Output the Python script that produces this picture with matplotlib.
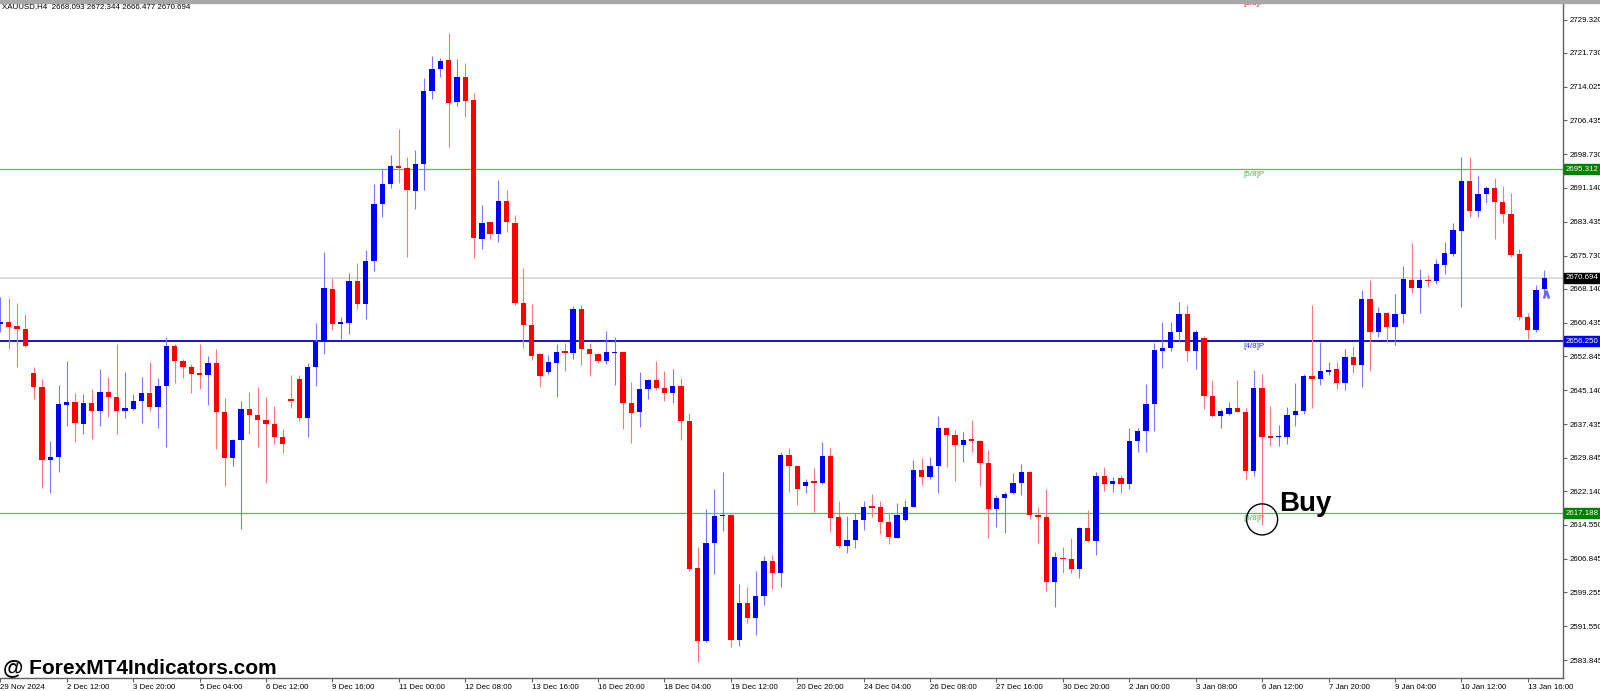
import matplotlib.pyplot as plt
from matplotlib.patches import Rectangle
from matplotlib import transforms

# XAUUSD H4 candles (index 0 = 29 Nov 2024)
open_ = [2660.18, 2660.71, 2659.72, 2659.04, 2649.12, 2645.79, 2629.29, 2629.90, 2641.86, 2642.39,
         2637.54, 2642.24, 2640.49, 2644.66, 2643.67, 2640.34, 2640.95, 2642.77, 2644.51, 2641.25,
         2646.17, 2655.10, 2651.70, 2650.41, 2648.82, 2648.59, 2651.32, 2640.27, 2629.75, 2633.76,
         2640.80, 2639.59, 2638.46, 2637.47, 2634.59, 2643.00, 2647.77, 2638.91, 2650.49, 2656.17,
         2668.13, 2660.18, 2660.48, 2669.87, 2664.65, 2674.56, 2687.51, 2692.05, 2696.06, 2695.61,
         2690.46, 2696.52, 2713.17, 2718.09, 2720.06, 2710.60, 2716.28, 2711.05, 2679.56, 2683.34,
         2680.62, 2688.04, 2683.04, 2664.87, 2659.88, 2653.29, 2649.36, 2651.40, 2653.90, 2653.52,
         2663.59, 2654.50, 2653.37, 2651.78, 2653.52, 2653.82, 2642.31, 2640.19, 2645.42, 2647.46,
         2645.72, 2644.59, 2646.18, 2638.15, 2604.69, 2588.19, 2610.52, 2616.50, 2616.80, 2588.42,
         2596.89, 2593.49, 2598.41, 2606.36, 2603.71, 2630.43, 2627.93, 2623.47, 2624.45, 2624.00,
         2630.28, 2616.35, 2609.84, 2611.20, 2615.59, 2618.69, 2618.62, 2615.14, 2611.65, 2615.59,
         2618.69, 2627.02, 2625.36, 2627.85, 2636.63, 2634.97, 2632.70, 2633.84, 2633.68, 2628.69,
         2618.24, 2620.66, 2621.87, 2624.07, 2626.57, 2616.80, 2616.35, 2601.59, 2607.11, 2606.73,
         2604.61, 2613.77, 2610.97, 2625.66, 2623.77, 2625.13, 2623.77, 2633.68, 2635.95, 2642.01,
         2654.05, 2654.73, 2658.44, 2662.37, 2654.12, 2657.07, 2643.83, 2639.36, 2639.66, 2641.18,
         2640.27, 2626.87, 2645.57, 2634.59, 2634.44, 2634.59, 2639.51, 2640.42, 2648.40, 2647.60,
         2649.30, 2649.90, 2646.70, 2652.60, 2650.90, 2665.80, 2658.30, 2662.60, 2659.40, 2662.38,
         2670.18, 2668.28, 2670.18, 2669.95, 2673.58, 2676.08, 2681.38, 2692.58, 2685.85, 2689.71,
         2691.14, 2687.97, 2685.16, 2676.00, 2661.85, 2658.82, 2668.093]
high = [2666.38, 2666.01, 2665.02, 2662.37, 2650.34, 2647.69, 2633.68, 2646.32, 2651.85, 2644.43,
        2644.28, 2645.42, 2650.03, 2648.22, 2655.71, 2649.28, 2644.28, 2648.22, 2651.55, 2647.84,
        2657.22, 2655.63, 2652.15, 2651.02, 2655.63, 2652.83, 2654.50, 2643.45, 2633.99, 2642.69,
        2644.66, 2645.80, 2643.53, 2641.63, 2636.26, 2648.52, 2648.52, 2651.25, 2660.41, 2676.46,
        2670.63, 2661.70, 2671.84, 2673.96, 2676.91, 2691.98, 2695.46, 2698.49, 2704.39, 2698.18,
        2699.70, 2715.97, 2721.04, 2720.51, 2726.34, 2720.44, 2719.53, 2712.57, 2687.13, 2683.65,
        2692.88, 2690.61, 2684.86, 2672.90, 2664.72, 2653.67, 2653.14, 2655.64, 2655.94, 2664.27,
        2664.50, 2655.94, 2653.52, 2658.67, 2657.15, 2653.90, 2647.01, 2649.20, 2647.69, 2651.78,
        2649.58, 2649.88, 2647.84, 2639.89, 2609.46, 2618.17, 2622.71, 2626.49, 2616.95, 2601.06,
        2600.38, 2604.09, 2607.49, 2607.72, 2631.19, 2631.94, 2628.16, 2624.98, 2627.40, 2633.31,
        2632.09, 2619.98, 2616.58, 2617.18, 2619.98, 2621.57, 2619.98, 2617.33, 2619.45, 2620.21,
        2629.29, 2629.75, 2630.05, 2639.28, 2636.86, 2636.10, 2635.58, 2638.38, 2633.84, 2631.56,
        2621.34, 2621.95, 2626.26, 2628.31, 2626.70, 2618.69, 2622.71, 2608.47, 2609.61, 2611.65,
        2614.15, 2617.94, 2626.60, 2627.63, 2625.36, 2625.89, 2636.63, 2636.63, 2646.48, 2655.79,
        2660.56, 2660.56, 2665.25, 2664.49, 2658.81, 2657.53, 2647.46, 2640.80, 2642.46, 2647.46,
        2641.03, 2649.73, 2648.82, 2641.56, 2637.16, 2641.40, 2646.70, 2648.90, 2664.40, 2656.20,
        2651.60, 2651.60, 2654.40, 2655.20, 2667.90, 2670.20, 2664.10, 2662.80, 2667.00, 2673.36,
        2678.50, 2672.60, 2671.39, 2674.87, 2678.81, 2683.20, 2698.18, 2698.18, 2693.79, 2691.52,
        2693.42, 2691.52, 2689.86, 2677.22, 2662.61, 2669.00, 2672.344]
low = [2658.44, 2654.42, 2650.49, 2654.90, 2643.07, 2622.86, 2621.87, 2626.57, 2637.09, 2633.45,
       2635.27, 2633.98, 2637.09, 2639.13, 2635.12, 2638.83, 2640.65, 2637.62, 2640.34, 2636.63,
       2632.32, 2646.85, 2647.99, 2644.58, 2645.34, 2641.71, 2631.71, 2623.39, 2627.93, 2613.55,
       2635.20, 2632.32, 2624.00, 2632.93, 2630.96, 2641.03, 2638.23, 2634.59, 2646.18, 2653.29,
       2658.89, 2656.70, 2657.91, 2663.66, 2661.24, 2672.29, 2684.56, 2690.99, 2692.28, 2675.47,
       2686.30, 2690.61, 2711.20, 2716.20, 2700.30, 2709.69, 2707.27, 2675.09, 2677.14, 2679.41,
       2678.80, 2681.07, 2664.42, 2654.66, 2652.01, 2645.95, 2648.83, 2643.53, 2649.51, 2652.31,
       2650.79, 2648.45, 2651.40, 2651.10, 2646.33, 2636.26, 2633.08, 2636.71, 2643.07, 2645.19,
       2642.69, 2642.16, 2633.76, 2604.16, 2583.34, 2587.89, 2603.33, 2613.25, 2586.90, 2587.13,
       2592.35, 2589.55, 2596.44, 2600.07, 2600.38, 2622.10, 2619.15, 2621.72, 2617.56, 2623.85,
       2612.87, 2609.23, 2608.10, 2609.23, 2613.40, 2616.42, 2612.41, 2610.14, 2611.50, 2615.36,
       2618.54, 2623.54, 2625.05, 2621.72, 2627.78, 2624.60, 2628.91, 2631.18, 2623.39, 2611.65,
       2614.15, 2612.64, 2621.57, 2621.34, 2615.82, 2610.37, 2599.62, 2595.98, 2603.55, 2603.55,
       2602.42, 2610.70, 2607.70, 2622.18, 2622.10, 2621.72, 2622.63, 2631.03, 2631.18, 2635.95,
       2650.11, 2654.05, 2656.39, 2651.85, 2649.88, 2640.95, 2639.13, 2636.63, 2639.51, 2640.12,
       2625.05, 2625.66, 2614.53, 2632.55, 2632.55, 2632.85, 2637.09, 2639.80, 2641.00, 2646.30,
       2648.60, 2645.40, 2645.20, 2649.00, 2645.80, 2649.50, 2657.30, 2656.20, 2655.40, 2660.33,
       2667.15, 2662.76, 2668.51, 2669.27, 2671.54, 2675.63, 2664.12, 2684.56, 2684.56, 2687.59,
       2679.41, 2683.20, 2675.47, 2661.09, 2656.70, 2658.30, 2666.477]
close = [2660.71, 2659.57, 2658.97, 2655.18, 2645.79, 2629.29, 2629.90, 2641.93, 2642.39, 2637.62,
         2642.24, 2640.49, 2644.66, 2643.67, 2640.49, 2641.02, 2642.77, 2644.51, 2641.40, 2646.17,
         2655.10, 2651.70, 2650.34, 2648.82, 2648.59, 2651.32, 2640.27, 2629.75, 2633.76, 2640.80,
         2639.59, 2638.46, 2637.47, 2634.59, 2633.01, 2642.69, 2638.91, 2650.49, 2656.17, 2668.28,
         2660.18, 2660.48, 2669.87, 2664.65, 2674.56, 2687.51, 2692.05, 2695.99, 2695.68, 2690.69,
         2696.44, 2713.17, 2718.02, 2719.98, 2710.45, 2716.20, 2710.90, 2679.79, 2683.19, 2680.62,
         2688.11, 2683.27, 2664.87, 2659.95, 2652.99, 2648.37, 2651.48, 2653.90, 2653.67, 2663.66,
         2654.50, 2653.29, 2651.85, 2653.75, 2653.82, 2642.16, 2640.04, 2645.50, 2647.46, 2645.72,
         2644.59, 2646.18, 2638.15, 2604.46, 2588.26, 2610.44, 2616.58, 2616.80, 2588.42, 2596.82,
         2593.49, 2598.48, 2606.36, 2603.71, 2630.43, 2627.93, 2622.78, 2624.37, 2624.15, 2630.28,
         2616.20, 2609.76, 2611.20, 2615.59, 2618.70, 2618.47, 2615.14, 2611.73, 2616.73, 2618.69,
         2627.02, 2625.36, 2627.85, 2636.48, 2634.97, 2632.70, 2633.76, 2633.61, 2628.69, 2618.09,
         2620.66, 2621.65, 2623.99, 2626.57, 2616.80, 2616.35, 2601.59, 2607.19, 2606.73, 2604.61,
         2613.77, 2610.97, 2625.66, 2623.84, 2624.45, 2623.77, 2633.68, 2635.88, 2642.01, 2654.20,
         2654.73, 2658.44, 2662.37, 2654.12, 2658.44, 2643.90, 2639.36, 2640.42, 2641.18, 2640.27,
         2626.87, 2645.72, 2634.44, 2634.37, 2634.82, 2639.51, 2640.42, 2648.40, 2647.60, 2649.50,
         2649.70, 2646.70, 2652.60, 2650.90, 2665.80, 2658.30, 2662.60, 2659.40, 2662.50, 2670.33,
         2668.28, 2670.18, 2669.88, 2673.73, 2676.23, 2681.46, 2692.73, 2685.85, 2689.63, 2691.14,
         2687.97, 2685.16, 2675.85, 2661.85, 2658.82, 2668.00, 2670.694]

date_labels = ["29 Nov 2024", "2 Dec 12:00", "3 Dec 20:00", "5 Dec 04:00", "6 Dec 12:00",
               "9 Dec 16:00", "11 Dec 00:00", "12 Dec 08:00", "13 Dec 16:00", "16 Dec 20:00",
               "18 Dec 04:00", "19 Dec 12:00", "20 Dec 20:00", "24 Dec 04:00", "26 Dec 08:00",
               "27 Dec 16:00", "30 Dec 20:00", "2 Jan 00:00", "3 Jan 08:00", "6 Jan 12:00",
               "7 Jan 20:00", "9 Jan 04:00", "10 Jan 12:00", "13 Jan 16:00"]
label_step = 8

price_ticks = [2729.320, 2721.730, 2714.025, 2706.435, 2698.730, 2691.140, 2683.435, 2675.730,
               2668.140, 2660.435, 2652.845, 2645.140, 2637.435, 2629.845, 2622.140, 2614.550,
               2606.845, 2599.255, 2591.550, 2583.845]

# Murrey math levels
levels = [2734.375, 2695.312, 2656.250, 2617.188]
level_names = ["[6/8]P", "[5/8]P", "[4/8]P", "[3/8]P"]
level_colors = ["#dd0000", "#55aa55", "#3030ee", "#55aa55"]
bid = 2670.694

buy_index = 152
buy_price = 2615.8

font = ["Liberation Sans", "DejaVu Sans"]
plt.rcParams['font.family'] = font

W, H = 1600, 691
fig = plt.figure(figsize=(W / 100, H / 100), dpi=100)
fig.patch.set_facecolor("white")
ax = fig.add_axes([0, 13 / H, 1563 / W, 676 / H])
ax.set_facecolor("white")

n = len(open_)
xs = list(range(n))
up = [c >= o for o, c in zip(open_, close)]

# wicks
wick_cols = ["#7777ff" if u else "#ff7777" for u in up]
ax.vlines(xs, low, high, colors=wick_cols, linewidth=0.8, zorder=3)

# bodies
bottoms = [min(o, c) for o, c in zip(open_, close)]
heights = [max(abs(c - o), 0.35) for o, c in zip(open_, close)]
body_cols = ["#0000ff" if u else "#ff0000" for u in up]
ax.bar(xs, heights, bottom=bottoms, width=0.64, color=body_cols, linewidth=0, zorder=4)

# horizontal levels
ax.axhline(levels[1], color="#66b366", lw=0.9, zorder=1)
ax.axhline(levels[2], color="#0000dd", lw=1.3, zorder=1)
ax.axhline(levels[3], color="#66b366", lw=0.9, zorder=1)
ax.axhline(bid, color="#dddddd", lw=1.4, zorder=1)

# level names just under each line; the 6/8 line itself is above the window
label_y = [2733.7, levels[1] - 0.45, levels[2] - 0.45, levels[3] - 0.45]
for ly, name, col in zip(label_y, level_names, level_colors):
    ax.text(149.8, ly, name, color=col, fontsize=5.8, va="top", ha="left", clip_on=True)

# buy signal
ax.scatter([buy_index], [buy_price], s=500, facecolors="none", edgecolors="black",
           linewidths=1.0, zorder=6)
ax.text(154.0, 2617.6, "Buy", fontsize=20, fontweight="bold", color="black",
        va="baseline", ha="left", zorder=7)

# small arrow under last candle
ax.plot([n - 1 + 0.25], [2666.9], marker=r"$\wedge$", color="#6666ff", markersize=5, zorder=5)

ax.set_xlim(-0.05, 188.25)
ax.set_ylim(2579.78, 2733.31)

# axes styling like MT4
for side in ["top", "left"]:
    ax.spines[side].set_visible(False)
for side in ["right", "bottom"]:
    ax.spines[side].set_color("#606060")
    ax.spines[side].set_linewidth(1)

ax.yaxis.tick_right()
ax.set_yticks(price_ticks)
ax.set_yticklabels([f"{p:.3f}" for p in price_ticks])
ax.tick_params(axis="y", direction="out", length=3, width=0.8, colors="#606060",
               labelsize=5.7, labelcolor="black", pad=2)

tick_pos = [i * label_step for i in range(len(date_labels))]
ax.set_xticks(tick_pos)
ax.set_xticklabels(date_labels)
ax.tick_params(axis="x", direction="out", length=3, width=0.8, colors="#606060",
               labelsize=5.7, labelcolor="black", pad=1)
for lab in ax.get_xticklabels():
    lab.set_ha("left")

# coloured price tags on the right scale
tag_tr = transforms.blended_transform_factory(ax.transAxes, ax.transData)
tags = [(levels[1], "#008000"), (bid, "#000000"), (levels[2], "#0000ff"), (levels[3], "#008000")]
for p, col in tags:
    ax.text(1.0015, p, f"{p:.3f}", transform=tag_tr, fontsize=5.7, color="white",
            va="center", ha="left", clip_on=False, zorder=10,
            bbox=dict(boxstyle="square,pad=0.18", fc=col, ec=col))

# grey frame at the top
fig.patches.append(Rectangle((0, 1 - 2.5 / H), 1, 2.5 / H, transform=fig.transFigure,
                             color="#a8a8a8", zorder=0))

fig.text(2 / W, 1 - 7 / H, "XAUUSD,H4  2668.093 2672.344 2666.477 2670.694",
         fontsize=5.7, color="black", va="center", ha="left")

fig.text(3 / W, (H - 673.3) / H, "@ ForexMT4Indicators.com", fontsize=15,
         fontweight="bold", color="black", va="baseline", ha="left")

fig.savefig("out.png", dpi=100)
